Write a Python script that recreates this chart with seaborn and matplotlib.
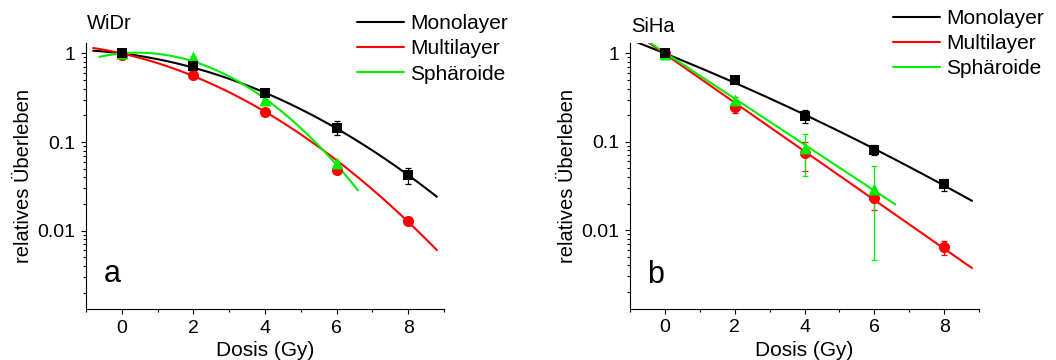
import numpy as np
import pandas as pd
import matplotlib
matplotlib.use("Agg")
import matplotlib.pyplot as plt
from matplotlib.lines import Line2D
from matplotlib.ticker import FixedLocator, FixedFormatter, NullFormatter
import seaborn as sns

# ---------------------------------------------------------------- data
series = ["Monolayer", "Multilayer", "Sphäroide"]
colors = {"Monolayer": "#000000", "Multilayer": "#ff0000", "Sphäroide": "#00ee00"}
markers = {"Monolayer": "s", "Multilayer": "o", "Sphäroide": "^"}
marker_sizes = {"Monolayer": 55, "Multilayer": 64, "Sphäroide": 74}

dose = [0, 2, 4, 6, 8]
dose_sph = [0, 2, 4, 6]

# WiDr: relative survival with error limits
widr_mono = [1.0, 0.73, 0.36, 0.145, 0.043]
widr_mono_lo = [0.95, 0.69, 0.34, 0.120, 0.034]
widr_mono_hi = [1.05, 0.77, 0.38, 0.174, 0.051]
widr_multi = [0.96, 0.57, 0.22, 0.048, 0.013]
widr_multi_lo = [0.93, 0.55, 0.21, 0.046, 0.0125]
widr_multi_hi = [0.99, 0.59, 0.23, 0.050, 0.0135]
widr_sph = [1.02, 0.90, 0.30, 0.058]
widr_sph_lo = [0.99, 0.87, 0.29, 0.056]
widr_sph_hi = [1.05, 0.93, 0.31, 0.060]

# SiHa: relative survival with error limits
siha_mono = [1.0, 0.50, 0.195, 0.081, 0.033]
siha_mono_lo = [0.93, 0.46, 0.163, 0.070, 0.0275]
siha_mono_hi = [1.07, 0.54, 0.227, 0.093, 0.038]
siha_multi = [1.0, 0.25, 0.074, 0.023, 0.0064]
siha_multi_lo = [0.95, 0.212, 0.047, 0.017, 0.0052]
siha_multi_hi = [1.05, 0.282, 0.100, 0.028, 0.0075]
siha_sph = [0.98, 0.30, 0.085, 0.029]
siha_sph_lo = [0.88, 0.28, 0.0406, 0.0046]
siha_sph_hi = [1.10, 0.32, 0.123, 0.0528]

# Linear-quadratic fits: S = S0 * exp(-alpha*D - beta*D^2)
widr_fit_s0 = [1.0, 1.0, 1.0]
widr_fit_alpha = [0.115, 0.210, -0.084]
widr_fit_beta = [0.0350, 0.0421, 0.0944]
widr_fit_start = [-0.8, -0.8, -0.63]
widr_fit_end = [8.8, 8.8, 6.6]

siha_fit_s0 = [1.0, 0.986, 1.02]
siha_fit_alpha = [0.367, 0.634, 0.599]
siha_fit_beta = [0.0079, 0.0, 0.0]
siha_fit_start = [-0.8, -0.8, -0.8]
siha_fit_end = [8.8, 8.8, 6.6]

ytick_values = [0.01, 0.1, 1]
ytick_labels = ["0.01", "0.1", "1"]
xtick_values = [0, 2, 4, 6, 8]

# ---------------------------------------------------------------- style
sns.set_theme(style="ticks", rc={
    "axes.edgecolor": "black",
    "axes.linewidth": 0.8,
    "xtick.color": "black",
    "ytick.color": "black",
    "text.color": "black",
    "axes.labelcolor": "black",
})
plt.rcParams["font.family"] = ["Liberation Sans", "DejaVu Sans"]

W, H = 1056, 360
fig = plt.figure(figsize=(W / 100, H / 100), dpi=100)


def px_rect(left, top, right, bottom):
    return [left / W, 1 - bottom / H, (right - left) / W, (bottom - top) / H]


def fit_frame(s0, alpha, beta, start, end):
    rows = []
    for name, a0, al, be, d0, d1 in zip(series, s0, alpha, beta, start, end):
        d = np.linspace(d0, d1, 200)
        s = a0 * np.exp(-al * d - be * d ** 2)
        rows.append(pd.DataFrame({"Dosis": d, "S": s, "Kultur": name}))
    return pd.concat(rows, ignore_index=True)


def draw_panel(ax, fits, points, title, letter, title_xy, letter_xy, legend_xy):
    sns.lineplot(data=fits, x="Dosis", y="S", hue="Kultur", hue_order=series,
                 palette=colors, linewidth=1.5, sort=False, estimator=None,
                 legend=False, ax=ax, zorder=2)
    for name, (xs, ys, lo, hi) in points.items():
        ys_a = np.asarray(ys)
        err = [ys_a - np.asarray(lo), np.asarray(hi) - ys_a]
        ax.errorbar(xs, ys, yerr=err, fmt="none", ecolor=colors[name],
                    elinewidth=0.9, capsize=2.5, capthick=0.9, zorder=3)
    for name in ["Multilayer", "Sphäroide", "Monolayer"]:
        xs, ys, _, _ = points[name]
        sns.scatterplot(x=xs, y=ys, marker=markers[name], color=colors[name],
                        s=marker_sizes[name], linewidth=0, ax=ax, zorder=4,
                        legend=False)

    ax.set_yscale("log")
    ax.set_xlim(-1, 9)
    ax.set_ylim(0.0013, 1.3)
    ax.xaxis.set_major_locator(FixedLocator(xtick_values))
    ax.xaxis.set_minor_locator(FixedLocator([-1, 1, 3, 5, 7, 9]))
    ax.yaxis.set_major_locator(FixedLocator(ytick_values))
    ax.yaxis.set_major_formatter(FixedFormatter(ytick_labels))
    minors = [m * 10.0 ** e for e in (-3, -2, -1) for m in range(2, 10)]
    ax.yaxis.set_minor_locator(FixedLocator(minors))
    ax.yaxis.set_minor_formatter(NullFormatter())
    ax.tick_params(which="major", direction="out", length=3.4, width=0.8,
                   labelsize=14, pad=4.5)
    ax.tick_params(which="minor", direction="out", length=2.2, width=0.8)
    sns.despine(ax=ax)

    ax.set_xlabel("Dosis (Gy)", fontsize=15, labelpad=3)
    ax.set_ylabel("relatives Überleben", fontsize=14.5, labelpad=3)

    fig.text(title_xy[0] / W, 1 - title_xy[1] / H, title, fontsize=14.5,
             ha="left", va="baseline")
    fig.text(letter_xy[0] / W, 1 - letter_xy[1] / H, letter, fontsize=22,
             ha="left", va="baseline")

    handles = [Line2D([], [], color=colors[n], linewidth=1.5) for n in series]
    ax.legend(handles, series, loc="upper left",
              bbox_to_anchor=(legend_xy[0] / W, 1 - legend_xy[1] / H),
              bbox_transform=fig.transFigure, frameon=False, fontsize=15,
              handlelength=2.26, handletextpad=0.3, labelspacing=0.3,
              borderpad=0, borderaxespad=0)


ax_a = fig.add_axes(px_rect(86, 43.3, 444, 309.3))
ax_b = fig.add_axes(px_rect(630, 43.3, 979, 308.5))

widr_points = {
    "Monolayer": (dose, widr_mono, widr_mono_lo, widr_mono_hi),
    "Multilayer": (dose, widr_multi, widr_multi_lo, widr_multi_hi),
    "Sphäroide": (dose_sph, widr_sph, widr_sph_lo, widr_sph_hi),
}
siha_points = {
    "Monolayer": (dose, siha_mono, siha_mono_lo, siha_mono_hi),
    "Multilayer": (dose, siha_multi, siha_multi_lo, siha_multi_hi),
    "Sphäroide": (dose_sph, siha_sph, siha_sph_lo, siha_sph_hi),
}

draw_panel(ax_a,
           fit_frame(widr_fit_s0, widr_fit_alpha, widr_fit_beta,
                     widr_fit_start, widr_fit_end),
           widr_points, "WiDr", "a", (87, 29), (104, 282), (357, 14))
draw_panel(ax_b,
           fit_frame(siha_fit_s0, siha_fit_alpha, siha_fit_beta,
                     siha_fit_start, siha_fit_end),
           siha_points, "SiHa", "b", (631, 32), (647, 283), (893, 9))

fig.savefig("out.png", dpi=100)
